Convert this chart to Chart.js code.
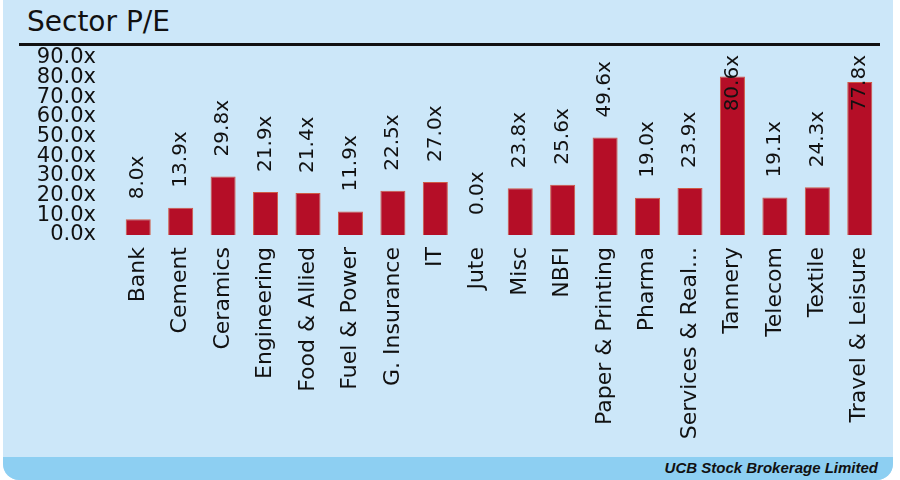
<!DOCTYPE html>
<html>
<head>
<meta charset="utf-8">
<script src="https://cdn.jsdelivr.net/npm/chart.js@4"></script>
<style>
  body { margin: 0; background: #ffffff; }
  #wrap { position: relative; width: 900px; height: 480px; overflow: hidden; }
  #panel { position: absolute; left: 3px; top: 0; width: 890px; height: 480px;
           background: #cce7f9; border-radius: 0 0 16px 16px; overflow: hidden; }
  #foot { position: absolute; left: 0; bottom: 0; width: 100%; height: 23px; background: #8dcff2; }
  #foot span { position: absolute; right: 15px; top: 2px; font: italic bold 15px "Liberation Sans", Arial, sans-serif; color: #111; }
  #title { position: absolute; left: 27px; top: 5px; font: 28px "DejaVu Sans", Verdana, sans-serif; color: #111; }
  #rule { position: absolute; left: 19px; top: 43px; width: 861px; height: 3px; background: #111; }
  #chart { position: absolute; left: 0; top: 0; }
</style>
</head>
<body>
<div id="wrap">
  <div id="panel"><div id="foot"><span>UCB Stock Brokerage Limited</span></div></div>
  <div id="title">Sector P/E</div>
  <div id="rule"></div>
  <canvas id="chart" width="900" height="480"></canvas>
</div>
<script>
const sectors = ['Bank', 'Cement', 'Ceramics', 'Engineering', 'Food & Allied', 'Fuel & Power',
  'G. Insurance', 'IT', 'Jute', 'Misc', 'NBFI', 'Paper & Printing', 'Pharma',
  'Services & Real Estate', 'Tannery', 'Telecom', 'Textile', 'Travel & Leisure'];
const peValues = [8.0, 13.9, 29.8, 21.9, 21.4, 11.9, 22.5, 27.0, 0.0, 23.8, 25.6, 49.6, 19.0, 23.9, 80.6, 19.1, 24.3, 77.8];
const yTicks = [0, 10, 20, 30, 40, 50, 60, 70, 80, 90];

const font = '"DejaVu Sans", Verdana, sans-serif';

const valueLabels = {
  id: 'valueLabels',
  afterDatasetsDraw(chart) {
    const ctx = chart.ctx;
    const meta = chart.getDatasetMeta(0);
    ctx.save();
    ctx.font = '20px ' + font;
    ctx.fillStyle = '#111';
    ctx.textAlign = 'left';
    ctx.textBaseline = 'middle';
    meta.data.forEach((bar, i) => {
      const txt = peValues[i].toFixed(1) + 'x';
      const w = ctx.measureText(txt).width;
      let bottom = bar.y - 20;
      if (bottom - w < 55) bottom = 55 + w;
      ctx.save();
      ctx.translate(bar.x, bottom);
      ctx.rotate(-Math.PI / 2);
      ctx.fillText(txt, 0, 0);
      ctx.restore();
    });
    ctx.restore();
  }
};

new Chart(document.getElementById('chart'), {
  type: 'bar',
  data: {
    labels: sectors,
    datasets: [{
      data: peValues,
      backgroundColor: '#b50e27',
      borderColor: '#cf5a45',
      borderWidth: 1,
      barPercentage: 0.59,
      categoryPercentage: 1
    }]
  },
  options: {
    responsive: false,
    animation: false,
    layout: { padding: { left: 20, right: 19, top: 58, bottom: 27 } },
    plugins: { legend: { display: false }, tooltip: { enabled: false } },
    scales: {
      x: {
        grid: { display: false, drawTicks: false },
        border: { display: false },
        ticks: {
          color: '#111',
          font: { family: font, size: 22 },
          minRotation: 90,
          maxRotation: 90,
          autoSkip: false,
          padding: 12,
          callback: function(v) {
            const s = this.getLabelForValue(v);
            return s.length > 16 ? s.slice(0, 15) + '...' : s;
          }
        },
        afterFit(scale) { scale.height = 218; }
      },
      y: {
        min: 0,
        max: 90,
        grid: { display: false, drawTicks: false },
        border: { display: false },
        afterBuildTicks(scale) { scale.ticks = yTicks.map(v => ({ value: v })); },
        ticks: {
          color: '#111',
          font: { family: font, size: 21 },
          padding: 21,
          autoSkip: false,
          callback: v => v.toFixed(1) + 'x'
        },
        afterFit(scale) { scale.width = 97; }
      }
    }
  },
  plugins: [valueLabels]
});
</script>
</body>
</html>
